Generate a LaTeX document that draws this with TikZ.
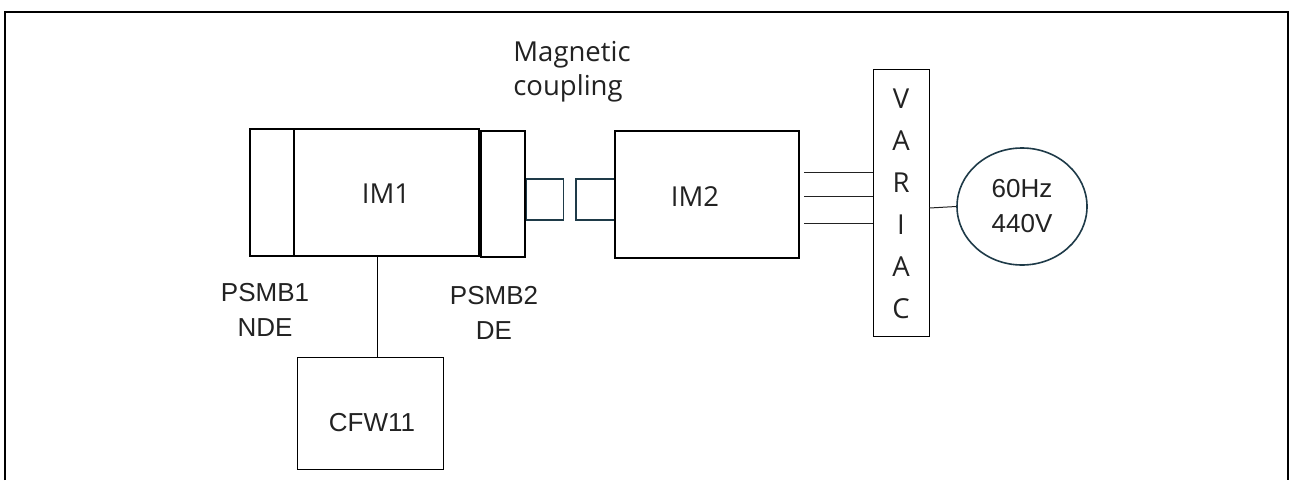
\documentclass[tikz,border=0pt]{standalone}
\usepackage{fontspec}
\setmainfont{Liberation Sans}
\newfontfamily\labelfont{Open Sans}
\usetikzlibrary{calc,shapes.geometric}

\definecolor{inkgray}{HTML}{222222}
\definecolor{tealdark}{HTML}{1E3A48}

\begin{document}
\begin{tikzpicture}[x=1pt, y=-1pt,
    box/.style={draw, line width=2.2pt, minimum width=#1, inner sep=0pt},
    thinbox/.style={draw, line width=1pt, inner sep=0pt},
    magnet/.style={draw=tealdark, line width=1.6pt, minimum width=37pt, minimum height=41pt, inner sep=0pt},
    sans/.style={font=\labelfont\fontsize{27.5}{34}\selectfont, text=inkgray},
    arial/.style={font=\fontsize{26}{35}\selectfont, text=inkgray, align=center}]
  \useasboundingbox (0,0) rectangle (1290,480);

  % Outer frame (open at the bottom)
  \draw[line width=2.5pt] (5,480) -- (5,12) -- (1288,12) -- (1288,480);

  % Machine set
  \node[box=44pt, minimum height=127pt] (psmb1) at (272,192.5) {};
  \node[box=185pt, minimum height=127pt, sans] (im1) at (386.5,192.5) {};
  \node[sans] (im1label) at (386,194) {IM1};
  \node[box=44pt, minimum height=126pt] (psmb2) at (503,194) {};

  % Magnetic coupling halves
  \node[magnet] (halfa) at (545,199.5) {};
  \node[magnet, minimum width=39pt] (halfb) at (595.5,199.5) {};
  \node[sans, align=left] (coupling) at (572,72) {Magnetic\\coupling};

  \node[box=184pt, minimum height=127pt] (im2) at (707,194.5) {};
  \node[sans] (im2label) at (695,197) {IM2};

  % Variac and supply
  \node[thinbox, minimum width=56pt, minimum height=267pt] (variac) at (901,202.5) {};
  \foreach \ch [count=\i] in {V,A,R,I,A,C}
    \node[sans] (var\i) at (901,{99+42*(\i-1)}) {\ch};
  \node[draw=tealdark, line width=1.6pt, ellipse, minimum width=130pt, minimum height=117pt,
        inner sep=0pt, arial] (supply) at (1022,206.5) {60Hz\\440V};

  % Drive
  \node[thinbox, minimum width=146pt, minimum height=112pt, arial] (cfw) at (370,413) {};
  \node[arial] (cfwlabel) at (372,423) {CFW11};

  % Bearing labels
  \node[arial] (psmb1label) at (265,310) {PSMB1\\NDE};
  \node[arial] (psmb2label) at (494,313) {PSMB2\\DE};

  % Connections
  \draw[line width=1pt] (im1.south -| 377,0) -- (cfw.north -| 377,0);
  \foreach \y in {172,196,223}
    \draw[line width=1pt, inkgray] ([xshift=4pt]im2.east |- 0,\y) -- (variac.west |- 0,\y);
  \draw[line width=1pt, inkgray] (variac.east |- 0,208) -- (supply.west);
\end{tikzpicture}
\end{document}
